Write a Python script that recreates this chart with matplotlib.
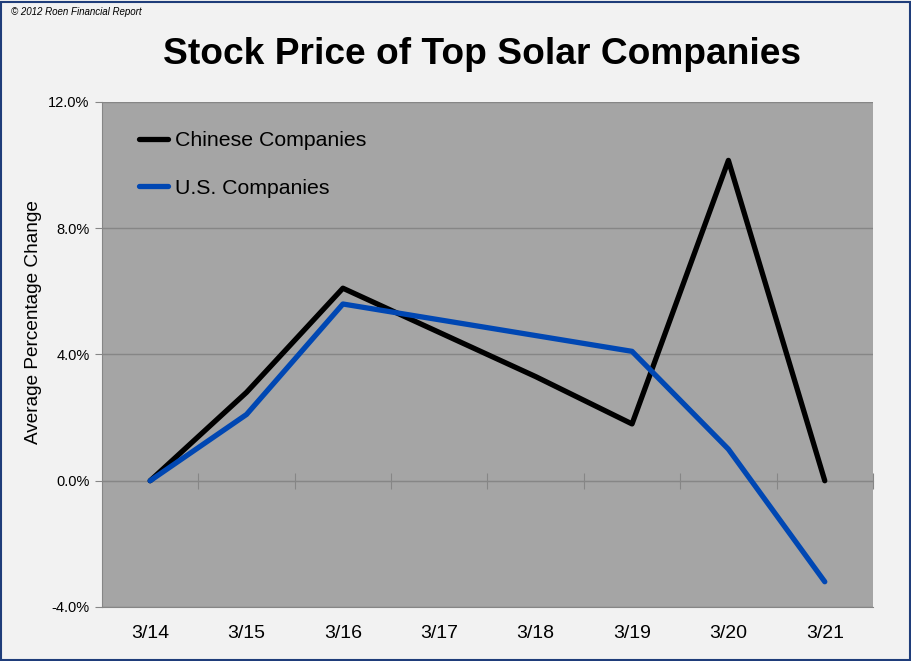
import numpy as np
import matplotlib.pyplot as plt
from matplotlib.patches import Rectangle
from matplotlib.ticker import FuncFormatter

plt.rcParams['font.family'] = ['Liberation Sans', 'DejaVu Sans']

# data (average % change)
dates = ['3/14', '3/15', '3/16', '3/17', '3/18', '3/19', '3/20', '3/21']
chinese = [0.0, 2.8, 6.1, 4.7, 3.3, 1.8, 10.15, 0.0]
us = [0.0, 2.1, 5.6, 5.1, 4.6, 4.1, 1.0, -3.2]

yticks = [-4, 0, 4, 8, 12]

fig = plt.figure(figsize=(9.12, 6.61), dpi=100)
fig.patch.set_facecolor('#f2f2f2')
fig.patches.append(Rectangle((0.001, 0.0015), 0.997, 0.996, transform=fig.transFigure,
                             fill=False, edgecolor='#1f3d7a', linewidth=1.5))

ax = fig.add_axes([0.1118, 0.0817, 0.8454, 0.764])
ax.set_facecolor('#a5a5a5')

x = np.arange(len(dates))
ax.plot(x, chinese, color='black', lw=3.8, solid_capstyle='round',
        solid_joinstyle='round', label='Chinese Companies', zorder=3)
ax.plot(x, us, color='#0047b3', lw=3.8, solid_capstyle='round',
        solid_joinstyle='round', label='U.S. Companies', zorder=3)

ax.set_xlim(-0.5, len(dates) - 0.5)
ax.set_ylim(-4, 12)
ax.set_yticks(yticks)
ax.yaxis.set_major_formatter(FuncFormatter(lambda v, p: '{:.1f}%'.format(v)))
ax.set_xticks(x)
ax.set_xticklabels(dates)
ax.tick_params(axis='x', length=0, labelsize=14, pad=13)
ax.tick_params(axis='y', length=5, color='#868686', labelsize=10.5, pad=4)
ax.grid(axis='y', color='#868686', lw=1)
ax.set_axisbelow(True)

for s in ['top', 'right']:
    ax.spines[s].set_visible(False)
for s in ['left', 'bottom']:
    ax.spines[s].set_color('#868686')

# category axis drawn at zero with tick marks between categories
secax = ax.secondary_xaxis(0.25)
secax.set_xticks(np.arange(0.5, len(dates) - 0.5 + 1, 1.0))
secax.tick_params(axis='x', direction='inout', length=12, color='#868686', labelbottom=False)
secax.spines['bottom'].set_color('#868686')

ax.set_ylabel('Average Percentage Change', fontsize=13.7)
ax.yaxis.set_label_coords(-0.078, 0.564)

leg = ax.legend(loc='upper left', frameon=False, fontsize=15.3, handlelength=1.36,
                handletextpad=0.35, labelspacing=1.34, borderaxespad=0.0,
                bbox_to_anchor=(0.037, 0.959))

fig.text(0.528, 0.918, 'Stock Price of Top Solar Companies', ha='center', va='center',
         fontsize=26.7, fontweight='bold')
fig.text(0.012, 0.982, '\u00a9 2012 Roen Financial Report', ha='left', va='center',
         fontsize=7, style='italic')

fig.savefig('out.png', dpi=100, facecolor=fig.get_facecolor())
